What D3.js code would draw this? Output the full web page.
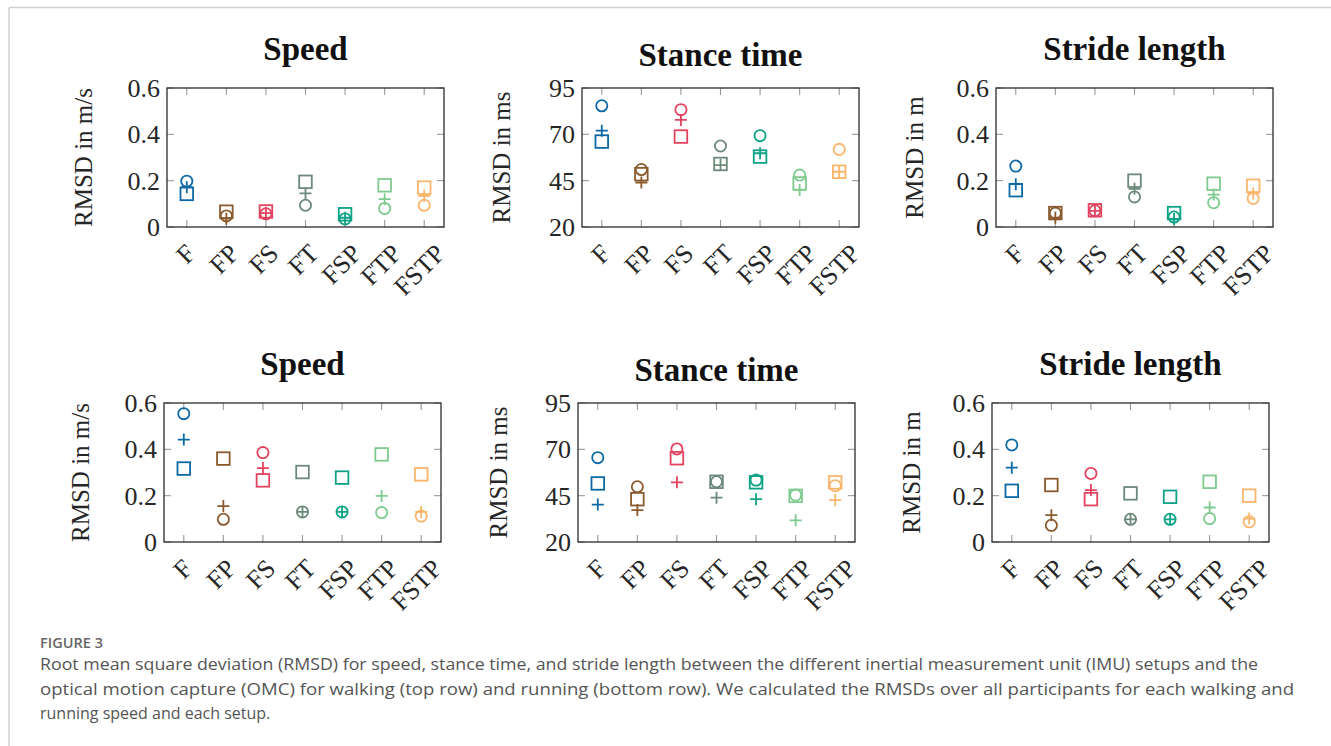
<!DOCTYPE html>
<html>
<head>
<meta charset="utf-8">
<script src="https://cdn.jsdelivr.net/npm/d3@7"></script>
<style>
  html, body { margin: 0; padding: 0; background: #fff; }
  svg { display: block; }
</style>
</head>
<body>
<svg id="fig" width="1331" height="746"></svg>
<script>
// RMSD per IMU setup, walking (top row) and running (bottom row)
const setups = ["F", "FP", "FS", "FT", "FSP", "FTP", "FSTP"];

const walkSpeedCircle = [0.198, 0.048, 0.057, 0.094, 0.035, 0.080, 0.094];
const walkSpeedPlus   = [0.172, 0.036, 0.060, 0.145, 0.040, 0.120, 0.135];
const walkSpeedSquare = [0.143, 0.066, 0.067, 0.195, 0.055, 0.180, 0.170];

const walkStanceCircle = [85.4, 51.0, 83.3, 63.7, 69.3, 48.0, 61.9];
const walkStancePlus   = [72.0, 44.0, 77.8, 53.4, 59.8, 40.0, 49.8];
const walkStanceSquare = [66.1, 48.5, 68.8, 54.0, 58.0, 43.5, 49.8];

const walkStrideCircle = [0.263, 0.060, 0.070, 0.130, 0.043, 0.105, 0.123];
const walkStridePlus   = [0.185, 0.040, 0.070, 0.165, 0.035, 0.140, 0.145];
const walkStrideSquare = [0.159, 0.060, 0.072, 0.200, 0.060, 0.187, 0.178];

const runSpeedCircle = [0.554, 0.098, 0.386, 0.130, 0.130, 0.127, 0.112];
const runSpeedPlus   = [0.442, 0.155, 0.319, 0.130, 0.130, 0.199, 0.130];
const runSpeedSquare = [0.317, 0.360, 0.266, 0.302, 0.278, 0.378, 0.292];

const runStanceCircle = [65.5, 49.8, 70.2, 52.5, 53.4, 45.3, 50.4];
const runStancePlus   = [40.2, 37.2, 52.2, 43.9, 43.1, 31.7, 42.6];
const runStanceSquare = [51.6, 43.1, 65.2, 52.5, 52.2, 44.9, 52.2];

const runStrideCircle = [0.419, 0.072, 0.296, 0.098, 0.098, 0.101, 0.087];
const runStridePlus   = [0.321, 0.116, 0.224, 0.098, 0.098, 0.149, 0.101];
const runStrideSquare = [0.221, 0.246, 0.185, 0.210, 0.195, 0.260, 0.200];

const ticksLength = [0, 0.2, 0.4, 0.6];
const ticksStance = [20, 45, 70, 95];

const setupColors = ["#0d69a6", "#8a5a2e", "#e2435e", "#6c897b", "#0ea286", "#7fca8f", "#fbb56b"];

const panels = [
  { title: "Speed",         ylabel: "RMSD in m/s", ticks: ticksLength, series: [walkSpeedCircle, walkSpeedPlus, walkSpeedSquare],   x: 167, y: 88,  lab: 75 },
  { title: "Stance time",   ylabel: "RMSD in ms",  ticks: ticksStance, series: [walkStanceCircle, walkStancePlus, walkStanceSquare], x: 582, y: 88,  lab: 72 },
  { title: "Stride length", ylabel: "RMSD in m",   ticks: ticksLength, series: [walkStrideCircle, walkStridePlus, walkStrideSquare], x: 996, y: 88,  lab: 73 },
  { title: "Speed",         ylabel: "RMSD in m/s", ticks: ticksLength, series: [runSpeedCircle, runSpeedPlus, runSpeedSquare],      x: 164, y: 403, lab: 75 },
  { title: "Stance time",   ylabel: "RMSD in ms",  ticks: ticksStance, series: [runStanceCircle, runStancePlus, runStanceSquare],    x: 578, y: 403, lab: 71 },
  { title: "Stride length", ylabel: "RMSD in m",   ticks: ticksLength, series: [runStrideCircle, runStridePlus, runStrideSquare],    x: 992, y: 403, lab: 72 }
];

const W = 277, H = 139;
const serif = "'Liberation Serif', 'DejaVu Serif', serif";
const svg = d3.select("#fig");

// page frame
svg.append("line").attr("x1", 9).attr("x2", 1331).attr("y1", 7.5).attr("y2", 7.5)
  .attr("stroke", "#cfcfcf").attr("stroke-width", 1.5);
svg.append("line").attr("x1", 9).attr("x2", 9).attr("y1", 7.5).attr("y2", 746)
  .attr("stroke", "#cfcfcf").attr("stroke-width", 1.5);

const markers = ["circle", "plus", "square"];

panels.forEach(p => {
  const g = svg.append("g").attr("transform", `translate(${p.x},${p.y})`);
  const x = d3.scalePoint().domain(setups).range([0, W]).padding(0.5);
  const y = d3.scaleLinear().domain(d3.extent(p.ticks)).range([H, 0]);
  const fmt = d => d === 0 ? "0" : (p.ticks[3] < 1 ? d3.format(".1f")(d) : d);

  // ticks inside the box, on all four sides
  const tk = 7;
  const tickG = g.append("g").attr("stroke", "#999").attr("stroke-width", 1.1);
  setups.forEach(s => {
    tickG.append("line").attr("x1", x(s)).attr("x2", x(s)).attr("y1", H).attr("y2", H - tk);
    tickG.append("line").attr("x1", x(s)).attr("x2", x(s)).attr("y1", 0).attr("y2", tk);
  });
  p.ticks.forEach(t => {
    tickG.append("line").attr("x1", 0).attr("x2", tk).attr("y1", y(t)).attr("y2", y(t));
    tickG.append("line").attr("x1", W).attr("x2", W - tk).attr("y1", y(t)).attr("y2", y(t));
  });

  g.append("rect").attr("width", W).attr("height", H)
    .attr("fill", "none").attr("stroke", "#2b2b2b").attr("stroke-width", 1.3);

  // y tick labels
  g.selectAll(".ytl").data(p.ticks).join("text")
    .attr("x", -7).attr("y", d => y(d)).attr("dy", "0.35em")
    .attr("text-anchor", "end").attr("font-family", serif).attr("font-size", 26)
    .attr("fill", "#262626").text(fmt);

  // rotated x tick labels (end slides right a bit for longer labels)
  g.selectAll(".xtl").data(setups).join("text")
    .attr("font-family", serif).attr("font-size", 26).attr("fill", "#262626")
    .attr("text-anchor", "end").text(d => d)
    .each(function(d) {
      const len = this.getComputedTextLength();
      const ex = x(d) + 10 + 0.27 * (len - 14);
      d3.select(this).attr("transform", `translate(${ex},${H + 28}) rotate(-45)`);
    });

  // y label
  g.append("text")
    .attr("transform", `translate(${-p.lab},${H / 2}) rotate(-90)`)
    .attr("text-anchor", "middle").attr("font-family", serif).attr("font-size", 25)
    .attr("fill", "#262626").text(p.ylabel);

  // title
  const desc = /[gpqy]/.test(p.title);
  g.append("text")
    .attr("x", W / 2).attr("y", desc ? -28.5 : -22.5)
    .attr("text-anchor", "middle").attr("font-family", serif).attr("font-weight", "bold")
    .attr("font-size", 33).attr("fill", "#111").text(p.title);

  // markers
  const mg = g.append("g").attr("fill", "none").attr("stroke-width", 1.8);
  p.series.forEach((vals, k) => {
    vals.forEach((v, i) => {
      const cx = x(setups[i]), cy = y(v), col = setupColors[i];
      if (markers[k] === "circle") {
        mg.append("circle").attr("cx", cx).attr("cy", cy).attr("r", 5.6).attr("stroke", col);
      } else if (markers[k] === "plus") {
        mg.append("path").attr("d", `M${cx - 6},${cy}H${cx + 6}M${cx},${cy - 6}V${cy + 6}`).attr("stroke", col);
      } else {
        mg.append("rect").attr("x", cx - 6.3).attr("y", cy - 6.3).attr("width", 12.6).attr("height", 12.6).attr("stroke", col);
      }
    });
  });
});

// caption
const sans = "'Open Sans', 'Noto Sans', sans-serif";
svg.append("text").attr("x", 40).attr("y", 648)
  .attr("font-family", sans).attr("font-size", 14).attr("font-weight", 600)
  .attr("fill", "#666").attr("textLength", 63).attr("lengthAdjust", "spacingAndGlyphs")
  .text("FIGURE 3");

const captionLines = [
  ["Root mean square deviation (RMSD) for speed, stance time, and stride length between the different inertial measurement unit (IMU) setups and the", 1218],
  ["optical motion capture (OMC) for walking (top row) and running (bottom row). We calculated the RMSDs over all participants for each walking and", 1254],
  ["running speed and each setup.", null]
];
captionLines.forEach(([t, w], i) => {
  const tx = svg.append("text").attr("x", 40).attr("y", 670 + i * 24.5)
    .attr("font-family", sans).attr("font-size", 16).attr("fill", "#555").text(t);
  if (w) tx.attr("textLength", w).attr("lengthAdjust", "spacingAndGlyphs");
});
</script>
</body>
</html>
